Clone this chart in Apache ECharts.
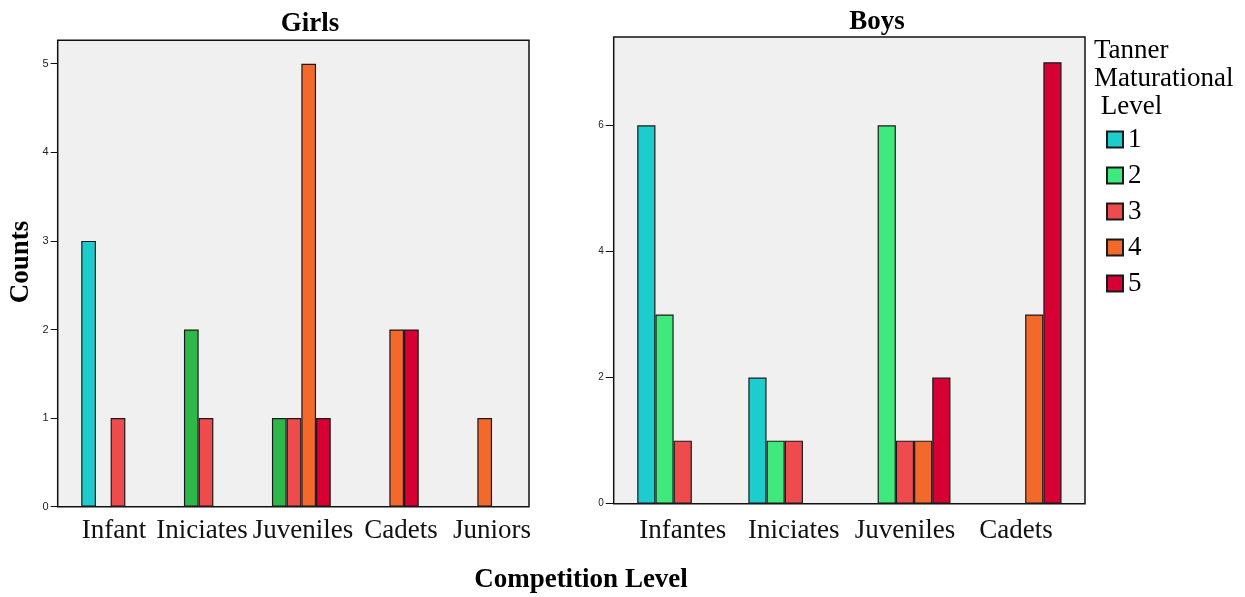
<!DOCTYPE html>
<html>
<head>
<meta charset="utf-8">
<script src="https://cdn.jsdelivr.net/npm/echarts@6/dist/echarts.min.js"></script>
<style>
  html, body { margin: 0; padding: 0; background: #fff; }
  #chart { width: 1245px; height: 597px; }
</style>
</head>
<body>
<div id="chart"></div>
<script>
// categories
const girlsCategories = ['Infant', 'Iniciates', 'Juveniles', 'Cadets', 'Juniors'];
const boysCategories = ['Infantes', 'Iniciates', 'Juveniles', 'Cadets'];
const levels = ['1', '2', '3', '4', '5'];

// counts per tanner level (girls)
const girlsLevel1 = [3, 0, 0, 0, 0];
const girlsLevel2 = [0, 2, 1, 0, 0];
const girlsLevel3 = [1, 1, 1, 0, 0];
const girlsLevel4 = [0, 0, 5, 2, 1];
const girlsLevel5 = [0, 0, 1, 2, 0];

// counts per tanner level (boys)
const boysLevel1 = [6, 2, 0, 0];
const boysLevel2 = [3, 1, 6, 0];
const boysLevel3 = [1, 1, 1, 0];
const boysLevel4 = [0, 0, 1, 3];
const boysLevel5 = [0, 0, 2, 7];

const girlsTicks = [0, 1, 2, 3, 4, 5];
const boysTicks = [0, 2, 4, 6];

const colorsBoys = ['#1dcdcd', '#3fe97c', '#ee4b4f', '#f2692b', '#d60033'];
const colorsGirls = ['#1dcdcd', '#2fb84a', '#ee4b4f', '#f2692b', '#d60033'];

const serif = "'Liberation Serif', 'Times New Roman', serif";
const sans = "'Liberation Sans', Arial, sans-serif";

// girls labels sit a bit off their ticks in the original
const girlsLabelShift = [-4, -4, 9, 19, 22];

let chart = echarts.init(document.getElementById('chart'));

function bars(name, values, color, axis, width) {
    return {
        name: name,
        type: 'bar',
        xAxisIndex: axis,
        yAxisIndex: axis,
        barWidth: width,
        barGap: '0%',
        data: values.map(v => v || null),
        itemStyle: { color: color, borderColor: '#1a1a1a', borderWidth: 1.2 }
    };
}

const boysData = [boysLevel1, boysLevel2, boysLevel3, boysLevel4, boysLevel5];
const girlsData = [girlsLevel1, girlsLevel2, girlsLevel3, girlsLevel4, girlsLevel5];

let series = [];
boysData.forEach((d, i) => series.push(bars(levels[i], d, colorsBoys[i], 3, 18.2)));
girlsData.forEach((d, i) => series.push(bars(levels[i], d, colorsGirls[i], 1, 14.7)));

const hiddenAxis = (g) => ({ gridIndex: g, type: 'value', show: false });
const boxStyle = { show: true, backgroundColor: '#f0f0f0', borderColor: '#111', borderWidth: 1.5 };

let option = {
    animation: false,
    title: [
        { text: 'Girls', left: 310, top: 11, textAlign: 'center', padding: 0,
          textStyle: { fontFamily: serif, fontSize: 27, fontWeight: 'bold', color: '#000' } },
        { text: 'Boys', left: 877, top: 9, textAlign: 'center', padding: 0,
          textStyle: { fontFamily: serif, fontSize: 27, fontWeight: 'bold', color: '#000' } }
    ],
    legend: {
        orient: 'vertical',
        left: 1106,
        top: 126,
        padding: 0,
        icon: 'rect',
        itemWidth: 16,
        itemHeight: 16,
        itemGap: 9,
        selectedMode: false,
        data: levels,
        textStyle: { fontFamily: serif, fontSize: 27, color: '#000' }
    },
    graphic: [
        { type: 'text', x: 1094, y: 37,
          style: { text: 'Tanner\nMaturational\n Level', fontFamily: serif, fontSize: 27, lineHeight: 28, fill: '#000' } },
        { type: 'text', x: 21, y: 262, rotation: Math.PI / 2,
          style: { text: 'Counts', fontFamily: serif, fontSize: 27, fontWeight: 'bold', fill: '#000', align: 'center', verticalAlign: 'middle' } },
        { type: 'text', x: 581, y: 580,
          style: { text: 'Competition Level', fontFamily: serif, fontSize: 27, fontWeight: 'bold', fill: '#000', align: 'center', verticalAlign: 'middle' } }
    ],
    grid: [
        Object.assign({ left: 57.7, top: 40.3, width: 471.3, height: 466.4 }, boxStyle),
        { left: 74, top: 40.3, width: 440, height: 466.4 },
        Object.assign({ left: 613.7, top: 37, width: 471.3, height: 466.7 }, boxStyle),
        { left: 627.2, top: 37, width: 444.4, height: 466.7 }
    ],
    xAxis: [
        hiddenAxis(0),
        {
            gridIndex: 1, type: 'category',
            data: girlsCategories.map((c, i) => ({
                value: c,
                textStyle: { padding: girlsLabelShift[i] > 0 ? [0, 0, 0, 2 * girlsLabelShift[i]] : [0, -2 * girlsLabelShift[i], 0, 0] }
            })),
            axisLine: { show: false },
            axisTick: { alignWithLabel: true, length: 8, lineStyle: { color: '#111', width: 1.5 } },
            axisLabel: { interval: 0, margin: 11, fontFamily: serif, fontSize: 27, color: '#111' }
        },
        hiddenAxis(2),
        {
            gridIndex: 3, type: 'category', data: boysCategories,
            axisLine: { show: false },
            axisTick: { alignWithLabel: true, length: 8, lineStyle: { color: '#111', width: 1.5 } },
            axisLabel: { interval: 0, margin: 14, fontFamily: serif, fontSize: 27, color: '#111' }
        }
    ],
    yAxis: [
        hiddenAxis(0),
        {
            gridIndex: 1, type: 'value', min: 0, max: 5.264, offset: 16.3,
            splitLine: { show: false },
            axisLine: { show: false },
            axisTick: { show: true, length: 7, customValues: girlsTicks, lineStyle: { color: '#111' } },
            axisLabel: { margin: 9, customValues: girlsTicks, fontFamily: sans, fontSize: 11, color: '#222' }
        },
        hiddenAxis(2),
        {
            gridIndex: 3, type: 'value', min: 0, max: 7.4, offset: 13.5,
            splitLine: { show: false },
            axisLine: { show: false },
            axisTick: { show: true, length: 8, customValues: boysTicks, lineStyle: { color: '#111' } },
            axisLabel: { margin: 10, customValues: boysTicks, fontFamily: sans, fontSize: 10, color: '#222' }
        }
    ],
    series: series
};

chart.setOption(option);
</script>
</body>
</html>
